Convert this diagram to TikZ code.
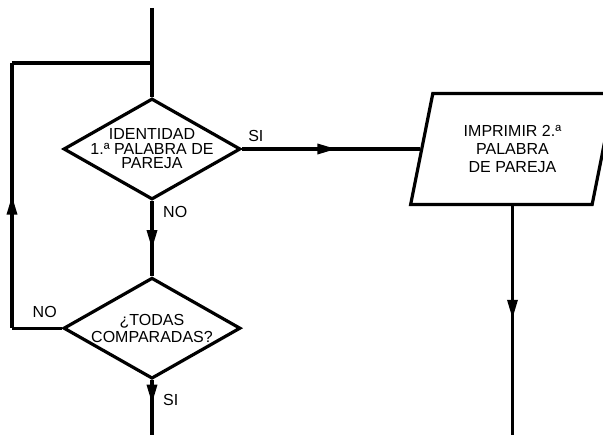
\documentclass[tikz,border=0pt]{standalone}
\usepackage{fontspec}
\setmainfont{Liberation Sans}
\usetikzlibrary{arrows.meta,positioning,shapes.geometric,decorations.markings}
\tikzset{
  decision/.style={
    diamond,
    draw,
    line width=3.2pt,
    minimum width=177pt,
    minimum height=101pt,
    inner sep=0pt
  },
  printbox/.style={
    trapezium,
    trapezium left angle=74,
    trapezium right angle=106,
    trapezium stretches=true,
    draw,
    line width=3.2pt,
    minimum width=204pt,
    minimum height=111pt,
    inner sep=0pt,
    align=center,
    font=\fontsize{16}{18}\selectfont
  },
  flow/.style={line width=3.2pt},
  midarrow/.style={
    postaction={decorate},
    decoration={markings, mark=at position #1 with {\arrow{Triangle[length=19pt,width=10pt]}}}
  },
  midarrow/.default=0.5,
  tag/.style={font=\fontsize{16}{18}\selectfont, inner sep=3pt}
}

\begin{document}
\begin{tikzpicture}[x=1pt,y=-1pt]
\useasboundingbox (0,0) rectangle (603,435);
\clip (0,0) rectangle (603,435);

% decisions
\node[decision, label={[align=center, font=\fontsize{16}{14.5}\selectfont]center:{IDENTIDAD\\1.ª PALABRA DE\\PAREJA}}] (ident) at (152,149) {};
\node[decision, below=75pt of ident, label={[align=center, font=\fontsize{16}{17}\selectfont]center:{¿TODAS\\COMPARADAS?}}] (todas) {};

% output
\node[printbox, right=178pt of ident] (imprimir) {IMPRIMIR 2.ª\\PALABRA\\DE PAREJA};

% free ends
\coordinate (entry) at (152,8);
\coordinate (turn) at (12,63);
\coordinate (floor) at (0,436);

% connectors
\draw[flow] (entry) -- (ident.north);
\draw[flow, midarrow=0.64] (ident.south) -- (todas.north);
\draw[flow, midarrow=0.53] (ident.east) -- (imprimir.west);
\draw[flow, midarrow=0.49] (imprimir.south) -- (imprimir.south |- floor);
\draw[flow, midarrow=0.42] (todas.south) -- (todas.south |- floor);
\draw[flow] (todas.west) -- (todas.west -| turn);
\draw[flow, midarrow=0.5] (todas.west -| turn) -- (turn);
\draw[flow, line join=miter] (turn) -- (turn -| ident.north);

% labels
\node[tag, anchor=south west] (si1) at ([xshift=3pt,yshift=4pt]ident.east) {SI};
\node[tag, anchor=north west] (no1) at ([xshift=8pt,yshift=-2pt]ident.south) {NO};
\node[tag, anchor=south east] (no2) at ([xshift=-2pt,yshift=7pt]todas.west) {NO};
\node[tag, anchor=north west] (si2) at ([xshift=8pt,yshift=-11pt]todas.south) {SI};
\end{tikzpicture}
\end{document}
